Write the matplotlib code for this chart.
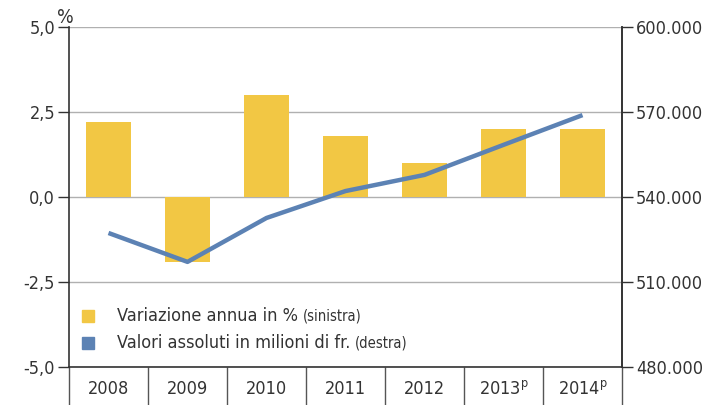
import numpy as np
import matplotlib.pyplot as plt

plt.rcParams['font.family'] = ['DejaVu Sans']
plt.rcParams['font.stretch'] = 'condensed'

# data
years = ['2008', '2009', '2010', '2011', '2012', '2013$^{\\mathrm{p}}$', '2014$^{\\mathrm{p}}$']
var_pct = [2.2, -1.9, 3.0, 1.8, 1.0, 2.0, 2.0]
abs_val = [527300, 517100, 532600, 542100, 547800, 558400, 568900]
left_ticks = [-5.0, -2.5, 0.0, 2.5, 5.0]
left_labels = ['-5,0', '-2,5', '0,0', '2,5', '5,0']
right_ticks = [480000, 510000, 540000, 570000, 600000]
right_labels = ['480.000', '510.000', '540.000', '570.000', '600.000']

yellow = '#F2C744'
blue = '#5C82B4'
dark = '#333333'

fig = plt.figure(figsize=(7.18, 4.05), dpi=100)
ax = fig.add_axes([69 / 718, 38 / 405, 553 / 718, 340 / 405])
x = np.arange(len(years))

ax.bar(x, var_pct, width=0.57, color=yellow, zorder=2)
ax.set_xlim(-0.5, len(years) - 0.5)
ax.set_ylim(-5, 5)
ax.set_yticks(left_ticks)
ax.set_yticklabels(left_labels)
ax.grid(axis='y', color='#b0b0b0', linewidth=1, zorder=0)
ax.set_axisbelow(True)

ax.set_xticks(x)
ax.set_xticklabels(years)
ax.set_xticks(np.arange(len(years) + 1) - 0.5, minor=True)
ax.tick_params(axis='x', which='major', length=0, pad=9, labelsize=13, colors=dark)
ax.tick_params(axis='x', which='minor', length=28, width=1, color='#555555')
ax.tick_params(axis='y', length=8, width=1, labelsize=13, colors=dark, pad=2)

ax.spines['top'].set_visible(False)
for s in ['left', 'bottom', 'right']:
    ax.spines[s].set_color(dark)
    ax.spines[s].set_linewidth(1.2)

ax.text(-0.55, 5.12, '%', fontsize=14, color=dark, ha='center', va='baseline')

ax2 = ax.twinx()
ax2.plot(x, abs_val, color=blue, linewidth=3.2, solid_capstyle='butt', zorder=3)
ax2.set_ylim(480000, 600000)
ax2.set_yticks(right_ticks)
ax2.set_yticklabels(right_labels)
ax2.tick_params(axis='y', length=8, width=1, labelsize=13, colors=dark, pad=2)
ax2.spines['top'].set_visible(False)
ax2.spines['right'].set_color(dark)
ax2.spines['right'].set_linewidth(1.2)
ax2.spines['left'].set_visible(False)
ax2.spines['bottom'].set_visible(False)

# legend
leg_items = [(yellow, 'Variazione annua in %', '(sinistra)'),
             (blue, 'Valori assoluti in milioni di fr.', '(destra)')]
for i, (c, t, small) in enumerate(leg_items):
    yy = 316 + i * 27
    fig.patches.append(plt.Rectangle((82 / 718, 1 - (yy + 6) / 405), 12 / 718, 12 / 405,
                                     transform=fig.transFigure, color=c, figure=fig))
    tx = fig.text(117 / 718, 1 - yy / 405, t, fontsize=13, color=dark, va='center')
    fig.canvas.draw()
    bb = tx.get_window_extent()
    fig.text((bb.x1 + 5) / 718, 1 - yy / 405, small, fontsize=10.5, color=dark, va='center')

fig.savefig('out.png', dpi=100)
